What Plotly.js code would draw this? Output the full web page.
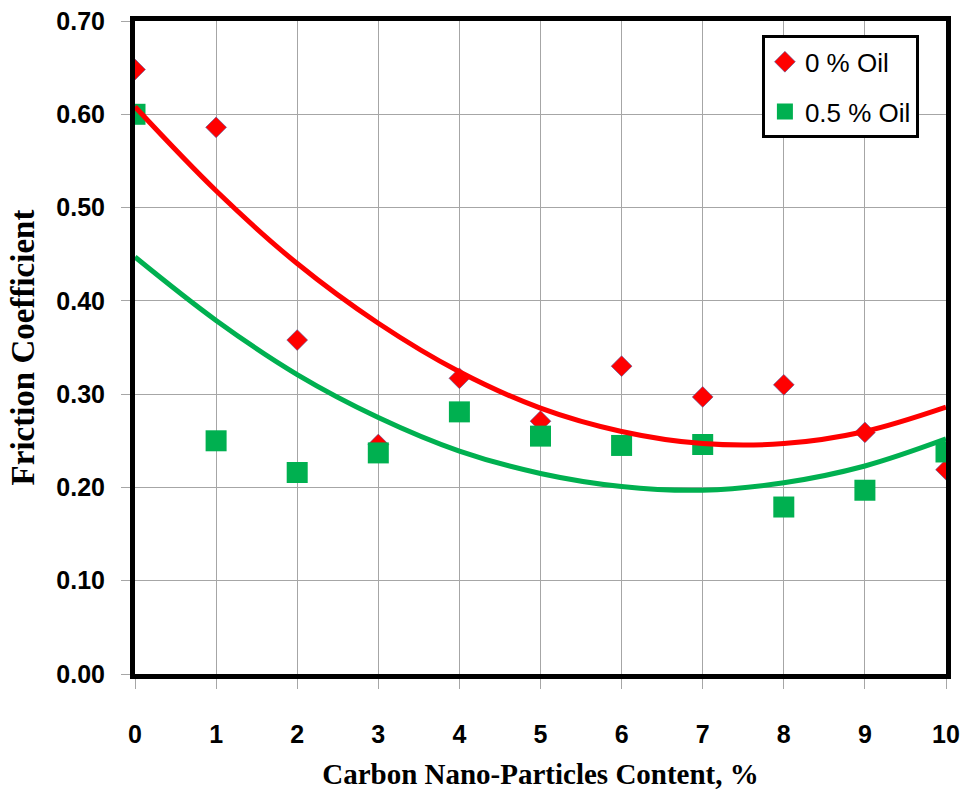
<!DOCTYPE html>
<html>
<head>
<meta charset="utf-8">
<script src="https://cdn.plot.ly/plotly-3.0.1.min.js"></script>
<style>html,body{margin:0;padding:0;background:#fff;}#chart{width:966px;height:796px;}</style>
</head>
<body>
<div id="chart"></div>
<script>
// Data
const content = [0, 1, 2, 3, 4, 5, 6, 7, 8, 9, 10];
const oil0 = [0.648, 0.586, 0.358, 0.246, 0.317, 0.271, 0.330, 0.297, 0.310, 0.259, 0.219];
const oil05 = [0.600, 0.250, 0.216, 0.237, 0.281, 0.255, 0.245, 0.246, 0.179, 0.197, 0.238];
// Polynomial trend lines
const trend0 = [0.608, 0.518, 0.440, 0.376, 0.324, 0.285, 0.260, 0.247, 0.247, 0.260, 0.286];
const trend05 = [0.447, 0.379, 0.321, 0.275, 0.239, 0.215, 0.201, 0.197, 0.205, 0.223, 0.252];
const seriesNames = ['0 % Oil', '0.5 % Oil'];
const yTickVals = [0, 0.1, 0.2, 0.3, 0.4, 0.5, 0.6, 0.7];
const yTickText = ['0.00', '0.10', '0.20', '0.30', '0.40', '0.50', '0.60', '0.70'];

const traces = [
  {x: content, y: oil0, type: 'scatter', mode: 'markers', name: seriesNames[0], legendgroup: 'a',
   marker: {symbol: 'diamond', size: 16, color: '#ff0000', line: {color: '#4a5aa0', width: 0.6}}},
  {x: content, y: oil05, type: 'scatter', mode: 'markers', name: seriesNames[1], legendgroup: 'b',
   marker: {symbol: 'square', size: 21, color: '#00b050', line: {width: 0}}},
  {x: content, y: trend0, type: 'scatter', mode: 'lines', showlegend: false, hoverinfo: 'skip',
   line: {color: '#ff0000', width: 5, shape: 'spline'}},
  {x: content, y: trend05, type: 'scatter', mode: 'lines', showlegend: false, hoverinfo: 'skip',
   line: {color: '#00b050', width: 5, shape: 'spline'}}
];

const layout = {
  width: 966, height: 796,
  margin: {l: 135, r: 20, t: 21, b: 122},
  paper_bgcolor: '#ffffff', plot_bgcolor: '#ffffff',
  showlegend: true,
  legend: {
    x: 0.773, y: 0.978, xanchor: 'left', yanchor: 'top',
    bgcolor: '#ffffff', bordercolor: '#000000', borderwidth: 3,
    font: {family: 'Liberation Sans, Arial, sans-serif', size: 26, color: '#000'},
    traceorder: 'grouped', tracegroupgap: 13, itemwidth: 30
  },
  xaxis: {
    range: [0, 10], dtick: 1, tick0: 0,
    showgrid: true, gridcolor: '#a6a6a6', gridwidth: 1,
    showline: true, mirror: true, linecolor: '#000000', linewidth: 5,
    ticks: 'outside', ticklen: 10, tickcolor: '#a6a6a6', tickwidth: 1,
    ticklabelstandoff: 24,
    zeroline: false,
    tickfont: {family: 'Liberation Sans, Arial, sans-serif', size: 25, color: '#000', weight: 'bold'},
    title: {text: '<b>Carbon Nano-Particles Content, %</b>', standoff: 18,
            font: {family: 'Liberation Serif, Times New Roman, serif', size: 29, color: '#000'}}
  },
  yaxis: {
    range: [0, 0.7], tickvals: yTickVals, ticktext: yTickText,
    showgrid: true, gridcolor: '#a6a6a6', gridwidth: 1,
    showline: true, mirror: true, linecolor: '#000000', linewidth: 5,
    ticks: 'outside', ticklen: 9, tickcolor: '#a6a6a6', tickwidth: 1,
    ticklabelstandoff: 11,
    zeroline: false,
    tickfont: {family: 'Liberation Sans, Arial, sans-serif', size: 25, color: '#000', weight: 'bold'},
    title: {text: '<b>Friction Coefficient</b>', standoff: 13,
            font: {family: 'Liberation Serif, Times New Roman, serif', size: 33, color: '#000'}}
  }
};

Plotly.newPlot('chart', traces, layout, {displayModeBar: false, staticPlot: true});
</script>
</body>
</html>
